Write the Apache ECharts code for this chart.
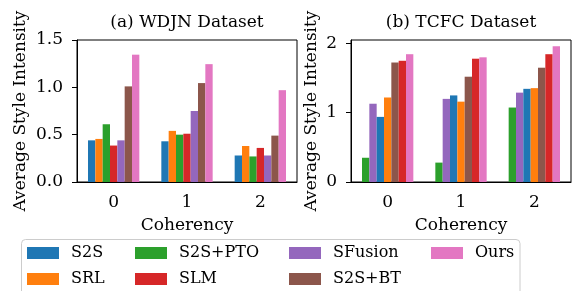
<!DOCTYPE html>
<html style="height: 100%">
<head>
    <meta charset="utf-8">
</head>
<body style="height: 100%; margin: 0">
    <div id="container" style="width: 574px; height: 291px"></div>
    <script type="text/javascript" src="https://cdn.jsdelivr.net/npm/echarts@6/dist/echarts.min.js"></script>
    <script type="text/javascript">
        var categories = ['0', '1', '2'];

        // (a) WDJN
        var wdjnS2S = [0.44, 0.43, 0.28];
        var wdjnSRL = [0.455, 0.54, 0.38];
        var wdjnPTO = [0.61, 0.50, 0.27];
        var wdjnSLM = [0.385, 0.51, 0.36];
        var wdjnSFusion = [0.44, 0.75, 0.28];
        var wdjnBT = [1.01, 1.045, 0.49];
        var wdjnOurs = [1.345, 1.245, 0.97];

        // (b) TCFC
        var tcfcS2S = [0.94, 1.25, 1.345];
        var tcfcSRL = [1.22, 1.16, 1.355];
        var tcfcPTO = [0.35, 0.28, 1.075];
        var tcfcSLM = [1.75, 1.78, 1.845];
        var tcfcSFusion = [1.13, 1.20, 1.29];
        var tcfcBT = [1.725, 1.52, 1.65];
        var tcfcOurs = [1.845, 1.80, 1.96];

        var wdjnTicks = [0, 0.5, 1.0, 1.5];
        var tcfcTicks = [0, 1, 2];

        var colors = {
            'S2S': '#1f77b4',
            'SRL': '#ff7f0e',
            'S2S+PTO': '#2ca02c',
            'SLM': '#d62728',
            'SFusion': '#9467bd',
            'S2S+BT': '#8c564b',
            'Ours': '#e377c2'
        };

        var font = 'DejaVu Serif';
        var fs = 17;
        var dom = document.getElementById("container");
        var myChart = echarts.init(dom);

        function bar(name, data, idx) {
            return {
                name: name,
                type: 'bar',
                xAxisIndex: idx,
                yAxisIndex: idx,
                data: data,
                barGap: '0%',
                barCategoryGap: '30%',
                itemStyle: { color: colors[name] },
                emphasis: { disabled: true }
            };
        }

        function xAx(idx) {
            return {
                gridIndex: idx,
                type: 'category',
                data: categories,
                name: 'Coherency',
                nameLocation: 'middle',
                nameGap: 35,
                nameTextStyle: { fontFamily: font, fontSize: fs, color: '#000' },
                axisLine: { lineStyle: { color: '#000', width: 1 } },
                axisTick: { alignWithLabel: true, length: 5, lineStyle: { color: '#000' } },
                axisLabel: { fontFamily: font, fontSize: fs, color: '#000', margin: 12 }
            };
        }

        function legendCol(names, left) {
            return {
                data: names,
                orient: 'vertical',
                left: left,
                top: 244,
                padding: 0,
                itemWidth: 32,
                itemHeight: 12,
                itemGap: 8,
                icon: 'rect',
                textStyle: { fontFamily: font, fontSize: 16, color: '#000', lineHeight: 18, padding: [0, 0, 0, 7] }
            };
        }

        var option = {
            animation: false,
            title: [
                { text: '(a) WDJN Dataset', left: 187, top: 14, textAlign: 'center', padding: 0,
                  textStyle: { fontFamily: font, fontSize: fs, fontWeight: 'normal', color: '#000' } },
                { text: '(b) TCFC Dataset', left: 461, top: 14, textAlign: 'center', padding: 0,
                  textStyle: { fontFamily: font, fontSize: fs, fontWeight: 'normal', color: '#000' } }
            ],
            grid: [
                { left: 77, top: 40, width: 220, height: 142, show: true, borderColor: '#000', borderWidth: 1 },
                { left: 351, top: 40, width: 220, height: 142, show: true, borderColor: '#000', borderWidth: 1 }
            ],
            legend: [
                legendCol(['S2S', 'SRL'], 27),
                legendCol(['S2S+PTO', 'SLM'], 135),
                legendCol(['SFusion', 'S2S+BT'], 289),
                legendCol(['Ours'], 431)
            ],
            graphic: [{
                type: 'rect',
                silent: true,
                z: -1,
                shape: { x: 21.5, y: 239.5, width: 498.5, height: 60, r: 4 },
                style: { fill: '#fff', stroke: '#cccccc', lineWidth: 1 }
            }],
            xAxis: [xAx(0), xAx(1)],
            yAxis: [
                {
                    gridIndex: 0,
                    type: 'value',
                    min: 0,
                    max: 1.5,
                    interval: 0.5,
                    name: 'Average Style Intensity',
                    nameLocation: 'middle',
                    nameGap: 48,
                    nameTextStyle: { fontFamily: font, fontSize: fs, color: '#000' },
                    splitLine: { show: false },
                    axisLine: { show: true, lineStyle: { color: '#000' } },
                    axisTick: { show: true, length: 5, customValues: wdjnTicks, lineStyle: { color: '#000' } },
                    axisLabel: {
                        fontFamily: font, fontSize: fs, color: '#000', margin: 14,
                        customValues: wdjnTicks,
                        formatter: function (v) { return v.toFixed(1); }
                    }
                },
                {
                    gridIndex: 1,
                    type: 'value',
                    min: 0,
                    max: 2.05,
                    name: 'Average Style Intensity',
                    nameLocation: 'middle',
                    nameGap: 31,
                    nameTextStyle: { fontFamily: font, fontSize: fs, color: '#000' },
                    splitLine: { show: false },
                    axisLine: { show: true, lineStyle: { color: '#000' } },
                    axisTick: { show: true, length: 5, customValues: tcfcTicks, lineStyle: { color: '#000' } },
                    axisLabel: {
                        fontFamily: font, fontSize: fs, color: '#000', margin: 14,
                        customValues: tcfcTicks
                    }
                }
            ],
            series: [
                bar('S2S', wdjnS2S, 0),
                bar('SRL', wdjnSRL, 0),
                bar('S2S+PTO', wdjnPTO, 0),
                bar('SLM', wdjnSLM, 0),
                bar('SFusion', wdjnSFusion, 0),
                bar('S2S+BT', wdjnBT, 0),
                bar('Ours', wdjnOurs, 0),
                // panel (b) draws bars in a different order
                bar('S2S+PTO', tcfcPTO, 1),
                bar('SFusion', tcfcSFusion, 1),
                bar('S2S', tcfcS2S, 1),
                bar('SRL', tcfcSRL, 1),
                bar('S2S+BT', tcfcBT, 1),
                bar('SLM', tcfcSLM, 1),
                bar('Ours', tcfcOurs, 1)
            ]
        };
        myChart.setOption(option);
    </script>
</body>
</html>
